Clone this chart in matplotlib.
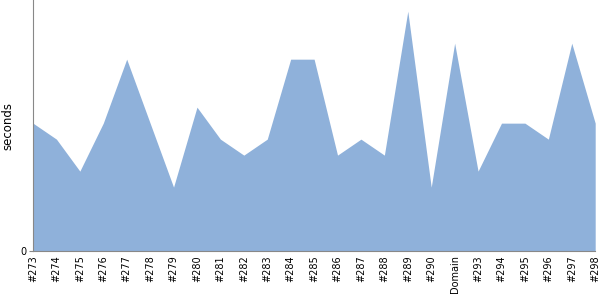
import matplotlib
matplotlib.use("Agg")
import matplotlib.pyplot as plt

labels = ['#273', '#274', '#275', '#276', '#277', '#278', '#279', '#280', '#281',
          '#282', '#283', '#284', '#285', '#286', '#287', '#288', '#289', '#290',
          'Domain', '#293', '#294', '#295', '#296', '#297', '#298']
seconds = [8, 7, 5, 8, 12, 8, 4, 9, 7, 6, 7, 12, 12, 6, 7, 6, 15, 4, 13, 5, 8, 8, 7, 13, 8]

fig = plt.figure(figsize=(6, 3), dpi=100)
ax = fig.add_axes([0.055, 0.163, 0.937, 0.837])

x = range(len(seconds))
ax.fill_between(x, seconds, 0, color='#8fb1da', linewidth=0)

ax.set_xlim(0, len(seconds) - 1)
ax.set_ylim(0, 15.7)
ax.set_xticks(list(x))
ax.set_xticklabels(labels, rotation=90, fontsize=7)
ax.set_yticks([0])
ax.set_yticklabels(['0'], fontsize=7)
ax.set_ylabel('seconds', fontsize=8.5, labelpad=4)

for s in ['top', 'right']:
    ax.spines[s].set_visible(False)
for s in ['left', 'bottom']:
    ax.spines[s].set_color('#888888')
    ax.spines[s].set_linewidth(0.8)
ax.tick_params(axis='x', length=0, pad=3)
ax.tick_params(axis='y', length=3, color='#888888', pad=2)

fig.savefig('out.png', dpi=100)
